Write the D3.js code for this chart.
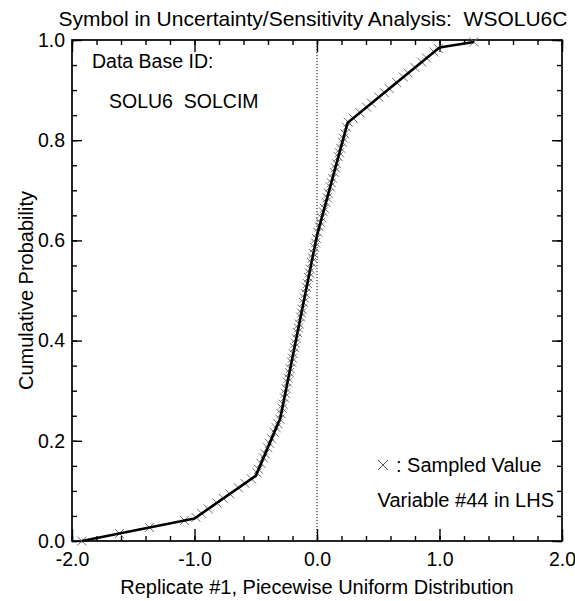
<!DOCTYPE html>
<html>
<head>
<meta charset="utf-8">
<script src="https://cdn.jsdelivr.net/npm/d3@7"></script>
<style>
  html, body { margin: 0; padding: 0; background: #fff; }
  svg { display: block; font-family: "Liberation Sans", Arial, Helvetica, sans-serif; }
  text { white-space: pre; }
</style>
</head>
<body>
<svg id="chart" width="575" height="601"></svg>
<script>
// ---- data ----
const titleText = "Symbol in Uncertainty/Sensitivity Analysis:  WSOLU6C";
const xTitle = "Replicate #1, Piecewise Uniform Distribution";
const yTitle = "Cumulative Probability";
const xMajorTicks = [-2, -1, 0, 1, 2];
const xTickLabels = ["-2.0", "-1.0", "0.0", "1.0", "2.0"];
const yMajorTicks = [0, 0.2, 0.4, 0.6, 0.8, 1.0];
const yTickLabels = ["0.0", "0.2", "0.4", "0.6", "0.8", "1.0"];
const xMinorTicks = [-2,-1.8,-1.6,-1.4,-1.2,-1,-0.8,-0.6,-0.4,-0.2,0,0.2,0.4,0.6,0.8,1,1.2,1.4,1.6,1.8,2];
const yMinorTicks = [0,0.05,0.1,0.15,0.2,0.25,0.3,0.35,0.4,0.45,0.5,0.55,0.6,0.65,0.7,0.75,0.8,0.85,0.9,0.95,1];

// piecewise-linear CDF breakpoints
const cdfX = [-1.92, -1.0, -0.5, -0.3, 0.0, 0.25, 1.0, 1.28];
const cdfY = [0.0, 0.045, 0.13, 0.245, 0.61, 0.835, 0.985, 0.996];

// sampled values (LHS) with their cumulative probabilities
const sampleX = [-1.92,-1.613,-1.368,-1.082,-0.988,
  -0.941,-0.888,-0.818,-0.765,-0.712,-0.641,-0.588,-0.535,
  -0.490,-0.477,-0.457,-0.437,-0.423,-0.403,-0.387,-0.371,-0.349,-0.333,-0.319,-0.303,
  -0.293,-0.284,-0.277,-0.266,-0.259,-0.252,-0.241,-0.234,-0.225,-0.219,-0.208,-0.201,
  -0.194,-0.184,-0.177,-0.169,-0.159,-0.152,-0.145,-0.134,-0.127,-0.121,-0.110,-0.103,
  -0.095,-0.085,-0.079,-0.069,-0.062,-0.055,-0.045,-0.037,-0.030,-0.020,-0.012,-0.005,
  0.007,0.019,0.029,0.039,0.052,0.060,0.073,0.083,0.093,0.108,0.117,0.127,0.140,0.150,
  0.159,0.174,0.183,0.193,0.207,0.216,0.226,0.240,
  0.255,0.295,0.350,0.405,0.445,0.505,0.550,0.590,0.650,0.705,0.745,0.800,0.855,0.895,0.955,0.990,
  1.28];
const sampleY = [0.0,0.015,0.027,0.041,0.047,
  0.055,0.064,0.076,0.085,0.094,0.106,0.115,0.124,
  0.136,0.143,0.155,0.166,0.174,0.186,0.195,0.204,0.217,0.226,0.234,0.243,
  0.254,0.265,0.273,0.286,0.295,0.304,0.317,0.325,0.336,0.344,0.357,0.365,
  0.374,0.386,0.395,0.404,0.416,0.425,0.433,0.447,0.455,0.463,0.476,0.485,
  0.494,0.506,0.514,0.526,0.535,0.543,0.556,0.565,0.574,0.586,0.595,0.604,
  0.616,0.627,0.636,0.645,0.657,0.664,0.676,0.685,0.694,0.707,0.715,0.724,0.736,0.745,
  0.753,0.767,0.775,0.784,0.796,0.804,0.813,0.826,
  0.836,0.844,0.855,0.866,0.874,0.886,0.895,0.903,0.915,0.926,0.934,0.945,0.956,0.964,0.976,0.983,
  0.996];

// ---- layout ----
const svg = d3.select("#chart");
const W = 575, H = 601;
const m = { left: 72, right: 13, top: 40, bottom: 60 };
const pw = W - m.left - m.right, ph = H - m.top - m.bottom;
const x = d3.scaleLinear().domain([-2, 2]).range([m.left, m.left + pw]);
const y = d3.scaleLinear().domain([0, 1]).range([m.top + ph, m.top]);
const fs = 19.5;

// dotted zero line
svg.append("line")
  .attr("x1", x(0)).attr("x2", x(0)).attr("y1", y(1)).attr("y2", y(0))
  .attr("stroke", "#000").attr("stroke-width", 1).attr("stroke-dasharray", "1.2,1.8");

// axes
function styleAxis(g) {
  g.select(".domain").remove();
  g.selectAll(".tick line").attr("stroke", "#000").attr("stroke-width", 1.4);
  g.selectAll("text").attr("font-size", fs).attr("fill", "#000")
    .attr("font-family", "'Liberation Sans', Arial, Helvetica, sans-serif");
}
// bottom
svg.append("g").attr("transform", `translate(0,${y(0)})`)
  .call(d3.axisBottom(x).tickValues(xMinorTicks).tickSize(-5).tickFormat(""))
  .call(styleAxis);
svg.append("g").attr("transform", `translate(0,${y(0)})`)
  .call(d3.axisBottom(x).tickValues(xMajorTicks).tickSize(-12).tickPadding(11)
    .tickFormat((d, i) => xTickLabels[i]))
  .call(styleAxis);
// top
svg.append("g").attr("transform", `translate(0,${y(1)})`)
  .call(d3.axisTop(x).tickValues(xMinorTicks).tickSize(-5).tickFormat(""))
  .call(styleAxis);
svg.append("g").attr("transform", `translate(0,${y(1)})`)
  .call(d3.axisTop(x).tickValues(xMajorTicks).tickSize(-12).tickFormat(""))
  .call(styleAxis);
// left
svg.append("g").attr("transform", `translate(${x(-2)},0)`)
  .call(d3.axisLeft(y).tickValues(yMinorTicks).tickSize(-5).tickFormat(""))
  .call(styleAxis);
svg.append("g").attr("transform", `translate(${x(-2)},0)`)
  .call(d3.axisLeft(y).tickValues(yMajorTicks).tickSize(-10).tickPadding(7)
    .tickFormat((d, i) => yTickLabels[i]))
  .call(styleAxis);
// right
svg.append("g").attr("transform", `translate(${x(2)},0)`)
  .call(d3.axisRight(y).tickValues(yMinorTicks).tickSize(-5).tickFormat(""))
  .call(styleAxis);
svg.append("g").attr("transform", `translate(${x(2)},0)`)
  .call(d3.axisRight(y).tickValues(yMajorTicks).tickSize(-10).tickFormat(""))
  .call(styleAxis);

// frame
svg.append("rect")
  .attr("x", x(-2)).attr("y", y(1)).attr("width", x(2) - x(-2)).attr("height", y(0) - y(1))
  .attr("fill", "none").attr("stroke", "#000").attr("stroke-width", 1.7);

// sample markers (x symbols)
const ms = 4.5;
const mk = svg.append("g").attr("stroke", "#6e6e6e").attr("stroke-width", 1);
sampleX.forEach((v, i) => {
  const cx = x(v), cy = y(sampleY[i]);
  mk.append("path").attr("d", `M${cx-ms},${cy-ms}L${cx+ms},${cy+ms}M${cx-ms},${cy+ms}L${cx+ms},${cy-ms}`);
});

// CDF line
const line = d3.line().x(d => x(d[0])).y(d => y(d[1]));
svg.append("path")
  .datum(cdfX.map((v, i) => [v, cdfY[i]]))
  .attr("d", line).attr("fill", "none").attr("stroke", "#000").attr("stroke-width", 2.6)
  .attr("stroke-linejoin", "round");

// title
svg.append("text").attr("x", 313).attr("y", 26).attr("text-anchor", "middle")
  .attr("font-size", 21).text(titleText);

// axis titles
svg.append("text").attr("x", 317).attr("y", 594).attr("text-anchor", "middle")
  .attr("font-size", 20).text(xTitle);
svg.append("text").attr("transform", `translate(33,${(y(0)+y(1))/2}) rotate(-90)`)
  .attr("text-anchor", "middle").attr("font-size", 20).text(yTitle);

// database annotation
svg.append("text").attr("x", 92).attr("y", 68).attr("font-size", fs).text("Data Base ID:");
svg.append("text").attr("x", 109).attr("y", 108).attr("font-size", fs).text("SOLU6  SOLCIM");

// legend
const lx = 383, ly = 465;
svg.append("path")
  .attr("d", `M${lx-5},${ly-5}L${lx+5},${ly+5}M${lx-5},${ly+5}L${lx+5},${ly-5}`)
  .attr("stroke", "#555").attr("stroke-width", 1);
svg.append("text").attr("x", 396).attr("y", 472).attr("font-size", 20).text(": Sampled Value");
svg.append("text").attr("x", 554).attr("y", 507).attr("text-anchor", "end")
  .attr("font-size", 20).text("Variable #44 in LHS");
</script>
</body>
</html>
